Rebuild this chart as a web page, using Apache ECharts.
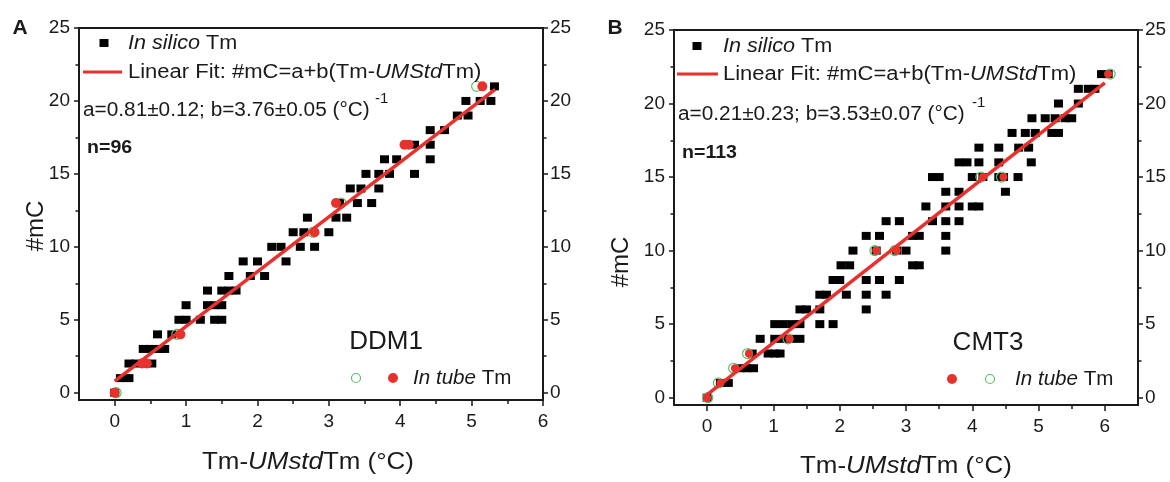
<!DOCTYPE html>
<html>
<head>
<meta charset="utf-8">
<script src="https://cdn.jsdelivr.net/npm/echarts@6/dist/echarts.min.js"></script>
<style>
  html, body { margin: 0; padding: 0; background: #fff; }
  #chart { width: 1170px; height: 482px; }
</style>
</head>
<body>
<div id="chart"></div>
<script>
// panel A (DDM1): in silico Tm vs #mC, in tube Tm, fit line
var silicoA = [
  [0, 0],
  [0.08, 1], [0.2, 1],
  [0.2, 2], [0.3, 2], [0.42, 2], [0.52, 2],
  [0.4, 3], [0.5, 3], [0.62, 3], [0.7, 3],
  [0.6, 4], [0.8, 4],
  [0.9, 5], [1.0, 5], [1.2, 5], [1.4, 5], [1.5, 5],
  [1.0, 6], [1.3, 6], [1.4, 6], [1.5, 6],
  [1.3, 7], [1.5, 7], [1.6, 7], [1.7, 7],
  [1.6, 8], [1.9, 8], [2.1, 8],
  [1.8, 9], [2.0, 9], [2.4, 9],
  [2.2, 10], [2.33, 10], [2.6, 10], [2.8, 10],
  [2.5, 11], [2.65, 11], [3.0, 11],
  [2.7, 12], [3.1, 12], [3.25, 12],
  [3.15, 13], [3.4, 13], [3.6, 13],
  [3.3, 14], [3.45, 14], [3.7, 14],
  [3.52, 15], [3.7, 15], [3.85, 15], [4.2, 15],
  [3.78, 16], [3.95, 16], [4.42, 16],
  [4.2, 17], [4.42, 17],
  [4.42, 18], [4.62, 18],
  [4.8, 19], [4.95, 19],
  [4.92, 20], [5.12, 20], [5.27, 20],
  [5.32, 21]
];
var tubeA = [[0, 0], [0.38, 2], [0.45, 2], [0.92, 4], [2.8, 11], [3.1, 13], [4.06, 17], [4.12, 17], [5.15, 21]];
var openA = [[0.02, 0], [0.87, 4], [2.78, 11], [3.17, 13], [5.07, 21]];
var fitA = [[0, 0.8], [5.33, 20.8]];

// panel B (CMT3)
var silicoB = [
  [0, 0],
  [0.2, 1], [0.32, 1],
  [0.5, 2], [0.6, 2], [0.7, 2],
  [0.68, 3], [0.92, 3], [1.02, 3], [1.1, 3],
  [0.8, 4], [1.02, 4], [1.15, 4], [1.28, 4], [1.4, 4],
  [1.02, 5], [1.15, 5], [1.28, 5], [1.4, 5], [1.7, 5], [1.9, 5],
  [1.4, 6], [1.5, 6], [1.7, 6], [2.4, 6],
  [1.7, 7], [1.8, 7], [2.1, 7], [2.4, 7], [2.7, 7],
  [1.9, 8], [2.0, 8], [2.4, 8], [2.6, 8], [2.9, 8],
  [2.02, 9], [2.15, 9], [3.1, 9], [3.2, 9],
  [2.2, 10], [2.55, 10], [2.86, 10], [3.0, 10], [3.6, 10],
  [2.4, 11], [2.6, 11], [3.1, 11], [3.2, 11], [3.6, 11],
  [2.7, 12], [2.9, 12], [3.4, 12], [3.6, 12], [3.8, 12],
  [3.3, 13], [3.6, 13], [3.8, 13], [4.0, 13], [4.1, 13],
  [3.6, 14], [3.8, 14], [4.5, 14],
  [3.4, 15], [3.5, 15], [4.0, 15], [4.16, 15], [4.4, 15], [4.47, 15], [4.69, 15],
  [3.8, 16], [3.92, 16], [4.1, 16], [4.4, 16], [4.89, 16],
  [4.1, 17], [4.4, 17], [4.7, 17], [4.85, 17],
  [4.6, 18], [4.8, 18], [4.95, 18], [5.2, 18], [5.3, 18],
  [4.9, 19], [5.1, 19], [5.25, 19], [5.4, 19], [5.5, 19],
  [5.3, 20], [5.6, 20],
  [5.6, 21], [5.75, 21], [5.85, 21],
  [5.95, 22], [6.05, 22]
];
var tubeB = [[0, 0], [0.2, 1], [0.42, 2], [0.63, 3], [1.24, 4], [2.55, 10], [2.86, 10], [4.16, 15], [4.47, 15], [6.05, 22]];
var openB = [[0.01, 0], [0.17, 1], [0.4, 2], [0.61, 3], [1.22, 4], [2.53, 10], [2.83, 10], [4.13, 15], [4.44, 15], [6.08, 22]];
var fitB = [[0, 0.2], [6.0, 21.4]];

var xTicksA = [0, 1, 2, 3, 4, 5, 6];
var xMinorA = [0.5, 1.5, 2.5, 3.5, 4.5, 5.5];
var xTicksB = [0, 1, 2, 3, 4, 5, 6];
var xMinorB = [0.5, 1.5, 2.5, 3.5, 4.5, 5.5];
var yTicks = [0, 5, 10, 15, 20, 25];
var yMinor = [2.5, 7.5, 12.5, 17.5, 22.5];

var FONT = 'Liberation Sans, Arial, sans-serif';
var RED = '#e8312d';
var GREEN = '#55c26a';
var INK = '#1a1a1a';

function xAxes(grid, max, ticks, minor) {
  return [{
    type: 'value', gridIndex: grid, min: -0.5, max: max, position: 'bottom',
    axisLine: {show: true, onZero: false, lineStyle: {color: INK, width: 2}},
    axisTick: {show: true, length: 6, customValues: ticks, lineStyle: {color: INK, width: 1.5}},
    axisLabel: {customValues: ticks, fontSize: 19, color: INK, margin: 12, fontFamily: FONT},
    splitLine: {show: false}
  }, {
    type: 'value', gridIndex: grid, min: -0.5, max: max, position: 'bottom',
    axisLine: {show: false, onZero: false},
    axisTick: {show: true, length: 4, customValues: minor, lineStyle: {color: INK, width: 1.5}},
    axisLabel: {show: false},
    splitLine: {show: false}
  }];
}

function yAxes(grid) {
  var out = [];
  ['left', 'right'].forEach(function(pos) {
    out.push({
      type: 'value', gridIndex: grid, min: -0.5, max: 25, position: pos,
      axisLine: {show: true, onZero: false, lineStyle: {color: INK, width: 2}},
      axisTick: {show: true, length: 5, customValues: yTicks, lineStyle: {color: INK, width: 1.5}},
      axisLabel: {customValues: yTicks, fontSize: 19, color: INK, margin: pos == 'left' ? 9 : 7, fontFamily: FONT},
      splitLine: {show: false}
    });
    out.push({
      type: 'value', gridIndex: grid, min: -0.5, max: 25, position: pos,
      axisLine: {show: false, onZero: false},
      axisTick: {show: true, length: 3.5, customValues: yMinor, lineStyle: {color: INK, width: 1.5}},
      axisLabel: {show: false},
      splitLine: {show: false}
    });
  });
  return out;
}

function panelSeries(xi, yi, silico, open, tube, fit, redSize) {
  return [{
    type: 'scatter', xAxisIndex: xi, yAxisIndex: yi, data: silico,
    symbol: 'rect', symbolSize: [9, 8], itemStyle: {color: '#000', opacity: 1}
  }, {
    type: 'line', xAxisIndex: xi, yAxisIndex: yi, data: fit,
    showSymbol: false, lineStyle: {color: RED, width: 3.5}
  }, {
    type: 'scatter', xAxisIndex: xi, yAxisIndex: yi, data: open,
    symbol: 'circle', symbolSize: 10,
    itemStyle: {color: 'rgba(0,0,0,0)', borderColor: GREEN, borderWidth: 1.2, opacity: 1}
  }, {
    type: 'scatter', xAxisIndex: xi, yAxisIndex: yi, data: tube,
    symbol: 'circle', symbolSize: redSize, itemStyle: {color: RED, opacity: 1}
  }];
}

function txt(x, y, text, o) {
  o = o || {};
  return {
    type: 'text', x: x, y: y, rotation: o.rot || 0, scaleX: o.sx || 1, z: 100,
    style: {
      text: text, fontSize: o.size || 20, fontFamily: FONT, fill: INK,
      fontWeight: o.bold ? 'bold' : 'normal',
      align: o.align || 'left', verticalAlign: 'middle',
      rich: {
        i: {fontStyle: 'italic', fontSize: o.size || 20, fontFamily: FONT, fill: INK},
        n: {fontSize: o.size || 20, fontFamily: FONT, fill: INK}
      }
    }
  };
}

function legendBits(p) {
  return [
    {type: 'rect', z: 100, shape: {x: p.sq[0] - 4.5, y: p.sq[1] - 4, width: 9, height: 8}, style: {fill: '#000'}},
    txt(p.tx, p.sq[1], '{i|In silico}{n| Tm}', {sx: 1.08}),
    {type: 'line', z: 100, shape: {x1: p.ln[0], y1: p.ln[2], x2: p.ln[1], y2: p.ln[2]}, style: {stroke: RED, lineWidth: 3}},
    txt(p.tx, p.ln[2], '{n|Linear Fit: #mC=a+b(Tm-}{i|UMStd}{n|Tm)}', {sx: 1.1}),
    txt(p.par[0], p.par[1], p.params, {sx: 1.04}),
    txt(p.sup[0], p.sup[1], '-1', {size: 15}),
    txt(p.n[0], p.n[1], p.nText, {size: 19, bold: true, sx: 1.03}),
    txt(p.name[0], p.name[1], p.nameText, {size: 26, align: 'center'}),
    {type: 'circle', z: 100, shape: {cx: p.green[0], cy: p.green[1], r: 4.5}, style: {fill: 'none', stroke: GREEN, lineWidth: 1.2}},
    {type: 'circle', z: 100, shape: {cx: p.red[0], cy: p.red[1], r: 5}, style: {fill: RED}},
    txt(p.tube[0], p.tube[1], '{i|In tube}{n| Tm}', {sx: 1.03}),
    txt(p.letter[0], p.letter[1], p.letterText, {size: 21, bold: true, align: 'center'}),
    txt(p.yname[0], p.yname[1], '#mC', {size: 24, align: 'center', rot: Math.PI / 2}),
    txt(p.xname[0], p.xname[1], '{n|Tm-}{i|UMstd}{n|Tm (°C)}', {size: 24, align: 'center', sx: 1.08})
  ];
}

var graphics = legendBits({
  sq: [104, 43], tx: 128, ln: [83, 122, 72],
  par: [83, 110], params: 'a=0.81±0.12; b=3.76±0.05 (°C)', sup: [375, 99],
  n: [87, 148], nText: 'n=96',
  name: [386, 342], nameText: 'DDM1',
  green: [356, 378], red: [393, 378], tube: [413, 378],
  letter: [20, 28], letterText: 'A',
  yname: [36, 226], xname: [308, 462]
}).concat(legendBits({
  sq: [697, 46], tx: 723, ln: [677, 718, 74],
  par: [678, 114], params: 'a=0.21±0.23; b=3.53±0.07 (°C)', sup: [972, 103],
  n: [682, 153], nText: 'n=113',
  name: [988, 343], nameText: 'CMT3',
  green: [990, 379], red: [952, 379], tube: [1015, 379],
  letter: [615, 28], letterText: 'B',
  yname: [621, 262], xname: [906, 466]
}));

var myChart = echarts.init(document.getElementById('chart'));
var option = {
  animation: false,
  backgroundColor: '#fff',
  grid: [
    {left: 79, top: 28, width: 464, height: 372, show: true, borderColor: INK, borderWidth: 2, backgroundColor: 'transparent'},
    {left: 674, top: 30, width: 464, height: 375, show: true, borderColor: INK, borderWidth: 2, backgroundColor: 'transparent'}
  ],
  xAxis: xAxes(0, 6, xTicksA, xMinorA).concat(xAxes(1, 6.5, xTicksB, xMinorB)),
  yAxis: yAxes(0).concat(yAxes(1)),
  series: panelSeries(0, 0, silicoA, openA, tubeA, fitA, 10).concat(panelSeries(2, 4, silicoB, openB, tubeB, fitB, 8)),
  graphic: graphics
};
myChart.setOption(option);
</script>
</body>
</html>
